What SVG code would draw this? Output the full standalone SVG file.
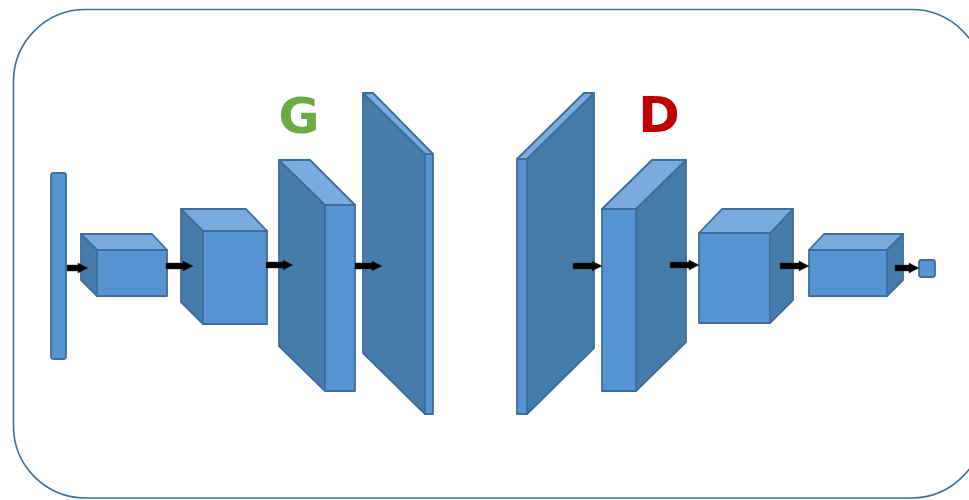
<svg xmlns="http://www.w3.org/2000/svg" width="969" height="500" viewBox="0 0 969 500">
<style>
.fr{fill:#5593D2;stroke:#3F6E9C;stroke-width:1.8;stroke-linejoin:round}
.sd{fill:#467CAA;stroke:#3F6E9C;stroke-width:1.8;stroke-linejoin:round}
.tp{fill:#79ABDC;stroke:#3F6E9C;stroke-width:1.8;stroke-linejoin:round}
.ar{fill:#000;stroke:#333;stroke-width:0.5}
.lbl{font-family:"DejaVu Sans","Liberation Sans",sans-serif;font-size:50px;font-weight:bold;text-anchor:middle}
</style>
<rect x="13.5" y="9.5" width="970" height="488.5" rx="72" ry="72" fill="#fff" stroke="#41709C" stroke-width="1.6"/>
<g id="input"><rect class="fr" x="51" y="173" width="15" height="186" rx="2.5"/></g>
<g id="g1">
<polygon class="sd" points="81,234 97,250 97,296 81,280"/>
<polygon class="tp" points="81,234 152,234 167,250 97,250"/>
<rect class="fr" x="97" y="250" width="70" height="46"/>
</g>
<g id="g2">
<polygon class="sd" points="181,209 203,231 203,324 181,302"/>
<polygon class="tp" points="181,209 246,209 267,231 203,231"/>
<rect class="fr" x="203" y="231" width="64" height="93"/>
</g>
<g id="g3">
<polygon class="sd" points="279,160 325,205 325,391 279,346"/>
<polygon class="tp" points="279,160 310,160 355,205 325,205"/>
<rect class="fr" x="325" y="205" width="30" height="186"/>
</g>
<g id="g4">
<polygon class="sd" points="363,93 425,154 425,414 363,353"/>
<polygon class="tp" points="363,93 373,93 433,154 425,154"/>
<rect class="fr" x="425" y="154" width="8" height="260"/>
</g>
<g id="d1">
<polygon class="sd" points="527,159 594,93 594,348 527,414"/>
<polygon class="tp" points="517,159 527,159 594,93 584,93"/>
<rect class="fr" x="517" y="159" width="10" height="255"/>
</g>
<g id="d2">
<polygon class="sd" points="636,209 686,160 686,342 636,391"/>
<polygon class="tp" points="602,209 636,209 686,160 652,160"/>
<rect class="fr" x="602" y="209" width="34" height="182"/>
</g>
<g id="d3">
<polygon class="sd" points="770,233 793,209 793,300 770,323"/>
<polygon class="tp" points="699,233 770,233 793,209 722,209"/>
<rect class="fr" x="699" y="233" width="71" height="90"/>
</g>
<g id="d4">
<polygon class="sd" points="887,250 903,234 903,280 887,296"/>
<polygon class="tp" points="809,250 887,250 903,234 824,234"/>
<rect class="fr" x="809" y="250" width="78" height="46"/>
</g>
<g id="output"><rect class="fr" x="919" y="260" width="16" height="17" rx="2.5"/></g>
<g id="labels">
<text class="lbl" x="299" y="133" fill="#6DAA44">G</text>
<text class="lbl" x="659" y="132" fill="#C00000">D</text>
</g>
<g id="connectors">
<polygon class="ar" points="67,265 78,265 78,263 88,268 78,273 78,271 67,271"/>
<polygon class="ar" points="166,263 183,263 183,261 193,266 183,271 183,269 166,269"/>
<polygon class="ar" points="266,262 283,262 283,260 293,265 283,270 283,268 266,268"/>
<polygon class="ar" points="355,263 372,263 372,261 382,266 372,271 372,269 355,269"/>
<polygon class="ar" points="573,263 592,263 592,261 602,266 592,271 592,269 573,269"/>
<polygon class="ar" points="670,262 689,262 689,260 699,265 689,270 689,268 670,268"/>
<polygon class="ar" points="780,263 799,263 799,261 809,266 799,271 799,269 780,269"/>
<polygon class="ar" points="895,265 909,265 909,263 919,268 909,273 909,271 895,271"/>
</g>
</svg>
